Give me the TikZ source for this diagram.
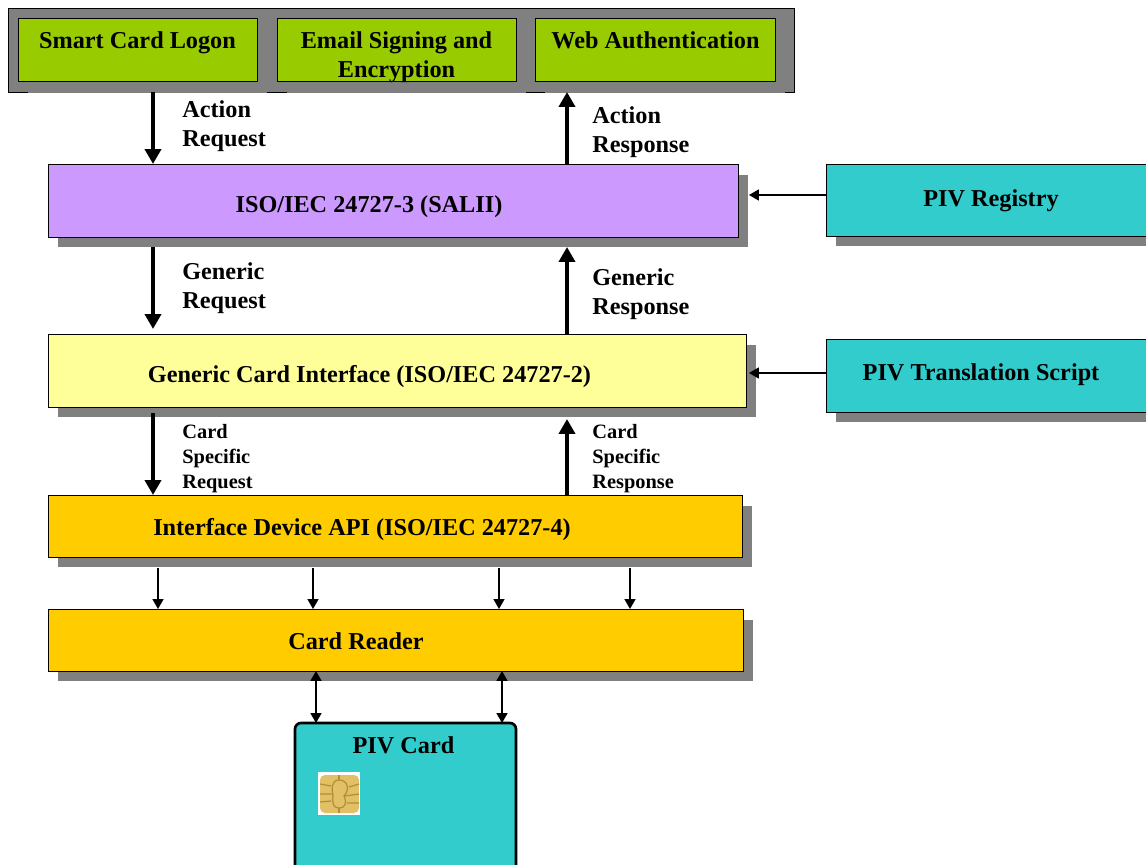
\documentclass[tikz,border=0pt]{standalone}
\usepackage{fontspec}
\setmainfont{Liberation Serif}
\usetikzlibrary{arrows.meta,shadows}
\definecolor{framegray}{HTML}{808080}
\definecolor{appgreen}{HTML}{99CC00}
\definecolor{saliipurple}{HTML}{CC99FF}
\definecolor{genericyellow}{HTML}{FFFF99}
\definecolor{deviceorange}{HTML}{FFCC00}
\definecolor{pivteal}{HTML}{33CCCC}
\definecolor{chipgold}{HTML}{E2C066}
\definecolor{chipline}{HTML}{B08E3C}
\tikzset{
  box/.style={draw=black,line width=0.5pt,outer sep=0pt,inner sep=0pt,
    drop shadow={shadow xshift=0.2cm,shadow yshift=-0.21cm,fill=framegray,opacity=1}},
  appbox/.style={draw=black,line width=0.5pt,outer sep=0pt,inner sep=0pt,fill=appgreen,minimum height=1.26cm,
    drop shadow={shadow xshift=0.2cm,shadow yshift=-0.24cm,fill=framegray,opacity=1}},
  lbl/.style={font=\fontsize{13.8}{16.5}\selectfont\bfseries,align=center,inner sep=0pt},
  sidelbl/.style={font=\fontsize{13.8}{16.5}\selectfont\bfseries,align=left,anchor=west,inner sep=0pt},
  smalllbl/.style={font=\fontsize{11.6}{14.2}\selectfont\bfseries,align=left,anchor=west,inner sep=0pt},
  bigarrow/.style={-{Triangle[length=0.3cm,width=0.32cm]},line width=0.09cm},
  thinarrow/.style={-{Triangle[length=0.2cm,width=0.22cm]},line width=0.035cm},
  botharrow/.style={{Triangle[length=0.2cm,width=0.22cm]}-{Triangle[length=0.2cm,width=0.22cm]},line width=0.035cm}
}
\begin{document}
\begin{tikzpicture}[x=0.02cm,y=-0.02cm]
\useasboundingbox (0,0) rectangle (1146,865);
% applications
\node[draw=black,line width=0.5pt,fill=framegray,outer sep=0pt,minimum width=15.74cm,minimum height=1.68cm] (apps) at (401.5,50) {};
\node[appbox,minimum width=4.78cm] (smart) at (137.5,49.5) {};
\node[appbox,minimum width=4.78cm] (email) at (396.5,49.5) {};
\node[appbox,minimum width=4.8cm] (web) at (655,49.5) {};
\node[lbl] (smarttext) at (137.5,43) {Smart Card Logon};
\node[lbl] (emailtext) at (396.5,57.5) {Email Signing and\\Encryption};
\node[lbl] (webtext) at (655.5,40) {Web Authentication};
% layers
\node[box,fill=saliipurple,minimum width=13.8cm,minimum height=1.46cm] (salii) at (393,200.5) {};
\node[box,fill=genericyellow,minimum width=13.96cm,minimum height=1.46cm] (generic) at (397,370.5) {};
\node[box,fill=deviceorange,minimum width=13.88cm,minimum height=1.24cm] (api) at (395,526) {};
\node[box,fill=deviceorange,minimum width=13.9cm,minimum height=1.24cm] (reader) at (395.5,640) {};
\node[lbl] (saliitext) at (369,207) {ISO/IEC 24727-3 (SALII)};
\node[lbl] (generictext) at (369.5,377) {Generic Card Interface (ISO/IEC 24727-2)};
\node[lbl] (apitext) at (362,530) {Interface Device API (ISO/IEC 24727-4)};
\node[lbl] (readertext) at (356,641.5) {Card Reader};
% piv data
\node[box,fill=pivteal,minimum width=6.8cm,minimum height=1.44cm] (registry) at (996,200) {};
\node[box,fill=pivteal,minimum width=6.8cm,minimum height=1.46cm] (translation) at (996,375.5) {};
\node[lbl] (registrytext) at (991,201) {PIV Registry};
\node[lbl] (translationtext) at (981,375) {PIV Translation Script};
% card
\node[draw=black,line width=1.5pt,fill=pivteal,rounded corners=0.12cm,outer sep=0pt,minimum width=4.42cm,minimum height=3.04cm] (card) at (405.5,799) {};
\node[lbl] (cardtext) at (403.5,745) {PIV Card};
\fill[white] (318,772) rectangle (360,815);
\fill[chipgold,rounded corners=0.1cm] (320,775) rectangle (359,813);
\draw[chipline,line width=0.7pt] (339,775) -- (339,780) (339,808) -- (339,813);
\draw[chipline,line width=0.7pt] (320,784) -- (331,786) (320,794) -- (332,794) (320,802) -- (331,801);
\draw[chipline,line width=0.7pt] (359,784) -- (349,787) (359,794) -- (345,796) (359,803) -- (347,803);
\draw[chipline,line width=0.7pt] (339,780) .. controls (332,780) and (331,788) .. (333,795) .. controls (332,803) and (333,808) .. (339,808) .. controls (346,808) and (347,802) .. (344,796) .. controls (350,790) and (348,780) .. (339,780);
% columns of the connectors
\coordinate (colleft) at (153,0);
\coordinate (colright) at (567,0);
\coordinate (cola) at (158,0);
\coordinate (colb) at (313,0);
\coordinate (colc) at (499,0);
\coordinate (cold) at (630,0);
\coordinate (cole) at (316,0);
\coordinate (colf) at (502,0);
\draw[bigarrow] (apps.south -| colleft) -- (salii.north -| colleft);
\draw[bigarrow] (salii.north -| colright) -- (apps.south -| colright);
\draw[bigarrow,shorten <=0.2cm,shorten >=0.1cm] (salii.south -| colleft) -- (generic.north -| colleft);
\draw[bigarrow,shorten >=0.2cm] (generic.north -| colright) -- (salii.south -| colright);
\draw[bigarrow,shorten <=0.12cm] (generic.south -| colleft) -- (api.north -| colleft);
\draw[bigarrow,shorten >=0.24cm] (api.north -| colright) -- (generic.south -| colright);
\draw[thinarrow,shorten <=0.22cm] (api.south -| cola) -- (reader.north -| cola);
\draw[thinarrow,shorten <=0.22cm] (api.south -| colb) -- (reader.north -| colb);
\draw[thinarrow,shorten <=0.22cm] (api.south -| colc) -- (reader.north -| colc);
\draw[thinarrow,shorten <=0.22cm] (api.south -| cold) -- (reader.north -| cold);
\draw[botharrow] (reader.south -| cole) -- (card.north -| cole);
\draw[botharrow] (reader.south -| colf) -- (card.north -| colf);
\draw[thinarrow,shorten >=0.22cm] (registry.west |- 0,195) -- (salii.east |- 0,195);
\draw[thinarrow,shorten >=0.06cm] (translation.west |- 0,373) -- (generic.east |- 0,373);
% arrow labels
\node[sidelbl] (actionreq) at (182,126) {Action\\Request};
\node[sidelbl] (actionresp) at (592,132) {Action\\Response};
\node[sidelbl] (genericreq) at (182,288) {Generic\\Request};
\node[sidelbl] (genericresp) at (592,294) {Generic\\Response};
\node[smalllbl] (cardreq) at (182,458.5) {Card\\Specific\\Request};
\node[smalllbl] (cardresp) at (592,458.5) {Card\\Specific\\Response};
\end{tikzpicture}
\end{document}
